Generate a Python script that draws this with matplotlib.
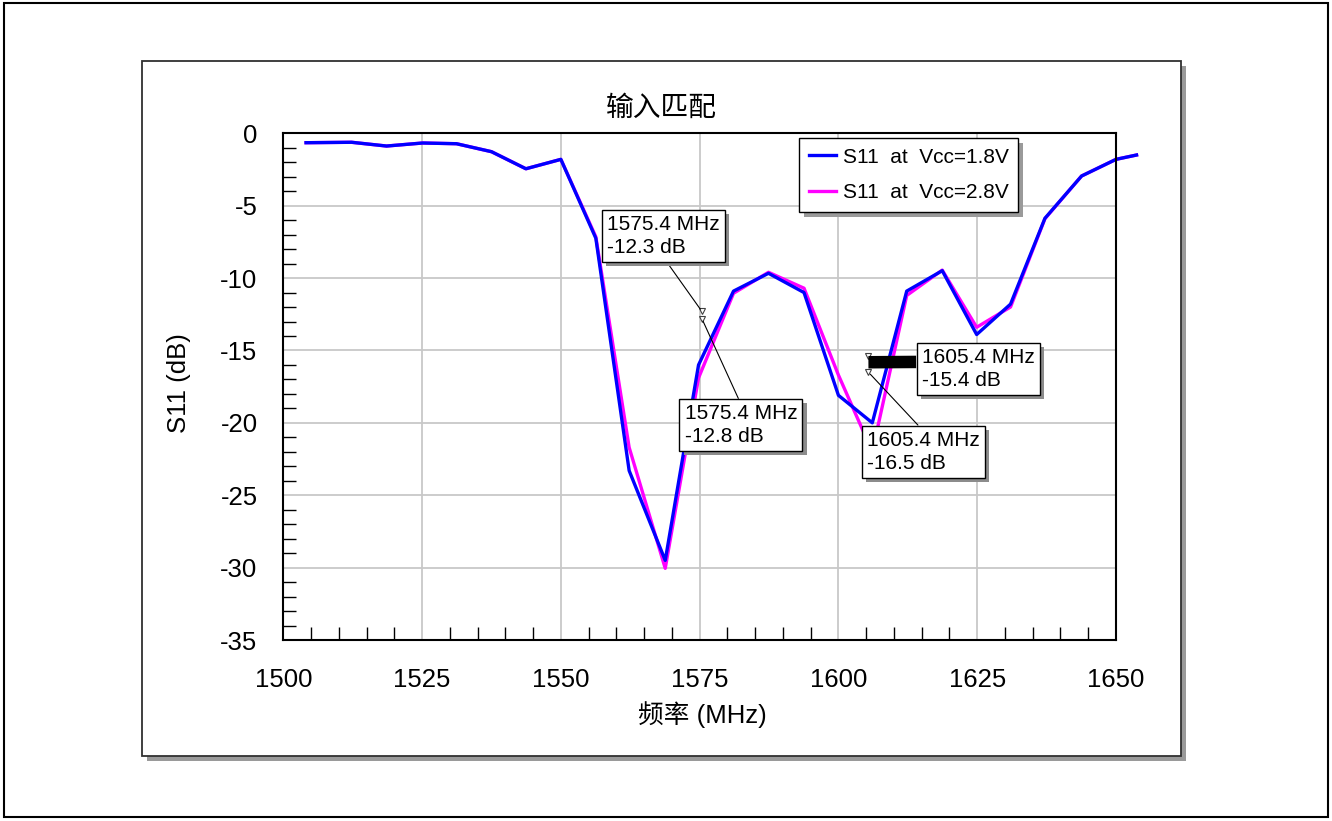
import matplotlib
matplotlib.use("Agg")
from matplotlib import pyplot as plt
from matplotlib.patches import Rectangle
from matplotlib.ticker import MultipleLocator
from matplotlib.transforms import offset_copy
import matplotlib.patheffects as pe

plt.rcParams['font.family'] = ['Liberation Sans', 'Noto Sans CJK SC']
plt.rcParams['axes.unicode_minus'] = False

# measured sweep (MHz) and S11 (dB) for the two supply voltages
freq = [1504.1, 1512.3, 1518.6, 1525.1, 1531.2, 1537.5, 1543.7, 1550.0,
        1556.3, 1562.3, 1568.8, 1574.8, 1581.1, 1587.4, 1593.8, 1600.0,
        1606.1, 1612.3, 1618.7, 1624.9, 1631.0, 1637.2, 1643.8, 1650.0, 1653.7]
s11_18v = [-0.65, -0.62, -0.88, -0.67, -0.72, -1.27, -2.45, -1.80,
           -7.25, -23.3, -29.5, -16.0, -10.9, -9.67, -11.0, -18.1,
           -20.0, -10.9, -9.49, -13.9, -11.8, -5.87, -2.95, -1.80, -1.50]
s11_28v = [-0.65, -0.62, -0.88, -0.67, -0.72, -1.27, -2.45, -1.80,
           -7.15, -21.7, -30.05, -16.9, -11.05, -9.6, -10.7, -16.7,
           -22.0, -11.2, -9.45, -13.4, -12.0, -5.9, -2.95, -1.80, -1.50]

# marker readouts
mark_freq = [1575.4, 1575.4, 1605.4, 1605.4]
mark_db = [-12.3, -12.8, -15.4, -16.5]

fig = plt.figure(figsize=(13.32, 8.21), dpi=100)
W, H = 1332.0, 821.0

# outer border and shadowed frame
fig.patches.append(Rectangle((4 / W, 1 - 817 / H), 1324 / W, 814 / H, transform=fig.transFigure,
                             fill=False, ec='black', lw=1.5, zorder=-2))
frame = Rectangle((142 / W, 1 - 756 / H), 1039 / W, 695 / H, transform=fig.transFigure,
                  fc='white', ec='#303030', lw=1.3, zorder=-1)
frame.set_path_effects([pe.withSimplePatchShadow(offset=(3.3, -3.3), shadow_rgbFace='#9a9a9a', alpha=1)])
fig.patches.append(frame)

ax = fig.add_axes([283.3 / W, 1 - 640 / H, 832.7 / W, 506.7 / H])
l28, = ax.plot(freq, s11_28v, color='#ff00ff', lw=2.4, clip_on=False, label='S11  at  Vcc=2.8V')
l18, = ax.plot(freq, s11_18v, color='#0000ff', lw=2.4, clip_on=False, label='S11  at  Vcc=1.8V')
ax.plot(mark_freq, mark_db, 'v', mfc='none', mec='#404040', ms=5, mew=0.8, ls='none')

ax.set_xlim(1500, 1650)
ax.set_ylim(-35, 0)
ax.xaxis.set_major_locator(MultipleLocator(25))
ax.xaxis.set_minor_locator(MultipleLocator(5))
ax.yaxis.set_major_locator(MultipleLocator(5))
ax.yaxis.set_minor_locator(MultipleLocator(1))
ax.tick_params(which='major', length=0, labelsize=18.5)
ax.tick_params(axis='x', which='major', pad=20)
ax.tick_params(axis='y', which='major', pad=18.5)
ax.tick_params(which='minor', direction='in', length=9.5, width=1, color='black')
ax.grid(True, which='major', color='#c8c8c8', lw=1.3)
ax.set_axisbelow(True)
for s in ax.spines.values():
    s.set_linewidth(1.5)

ax.set_xlabel('频率 (MHz)', fontsize=18.5, va='center')
ax.xaxis.set_label_coords(0.503, -0.148)
ax.set_ylabel('S11 (dB)', fontsize=18.5, va='center')
ax.yaxis.set_label_coords(-0.125, 0.507)
fig.text(661.5 / W, 1 - 108 / H, '输入匹配', ha='center', va='center', fontsize=20,
         family=['Noto Sans CJK SC'])

leg = ax.legend(handles=[l18, l28], loc='upper left', bbox_to_anchor=(0.6197, 0.99),
                borderaxespad=0, fontsize=15, fancybox=False, framealpha=1,
                edgecolor='black', borderpad=0.45, labelspacing=0.8,
                handlelength=1.3, handletextpad=0.35)
leg.get_frame().set_linewidth(1)
leg.get_frame().set_path_effects([pe.withSimplePatchShadow(offset=(3.5, -3.5), shadow_rgbFace='#9a9a9a', alpha=1)])

# readout boxes: centre position (data coords) and where the leader leaves the box
label_pos = [(1568.45, -7.11), (1582.44, -20.15), (1625.18, -16.28), (1615.28, -21.99)]
leader_rel = [(0.5, 0), (0.5, 1), (0, 0.67), (0.5, 1)]
for i in range(4):
    txt = '%.1f MHz\n%.1f dB' % (mark_freq[i], mark_db[i])
    if i == 2:
        arrow = dict(arrowstyle='-', lw=9, color='black', shrinkA=0, shrinkB=0,
                     relpos=leader_rel[i], capstyle='butt')
        xyc = offset_copy(ax.transData, fig=fig, y=-6, units='dots')
    else:
        arrow = dict(arrowstyle='-', lw=0.8, color='black', shrinkA=0, shrinkB=2, relpos=leader_rel[i])
        xyc = 'data'
    ann = ax.annotate(txt, xy=(mark_freq[i], mark_db[i]), xycoords=xyc,
                      xytext=label_pos[i], textcoords='data', ha='center', va='center',
                      multialignment='left', fontsize=15, linespacing=1.25,
                      bbox=dict(boxstyle='square,pad=0.25', fc='white', ec='black', lw=1),
                      arrowprops=arrow, annotation_clip=False)
    ann.get_bbox_patch().set_path_effects([pe.withSimplePatchShadow(offset=(3, -3), shadow_rgbFace='#8c8c8c', alpha=1)])

fig.savefig('out.png', dpi=100)
